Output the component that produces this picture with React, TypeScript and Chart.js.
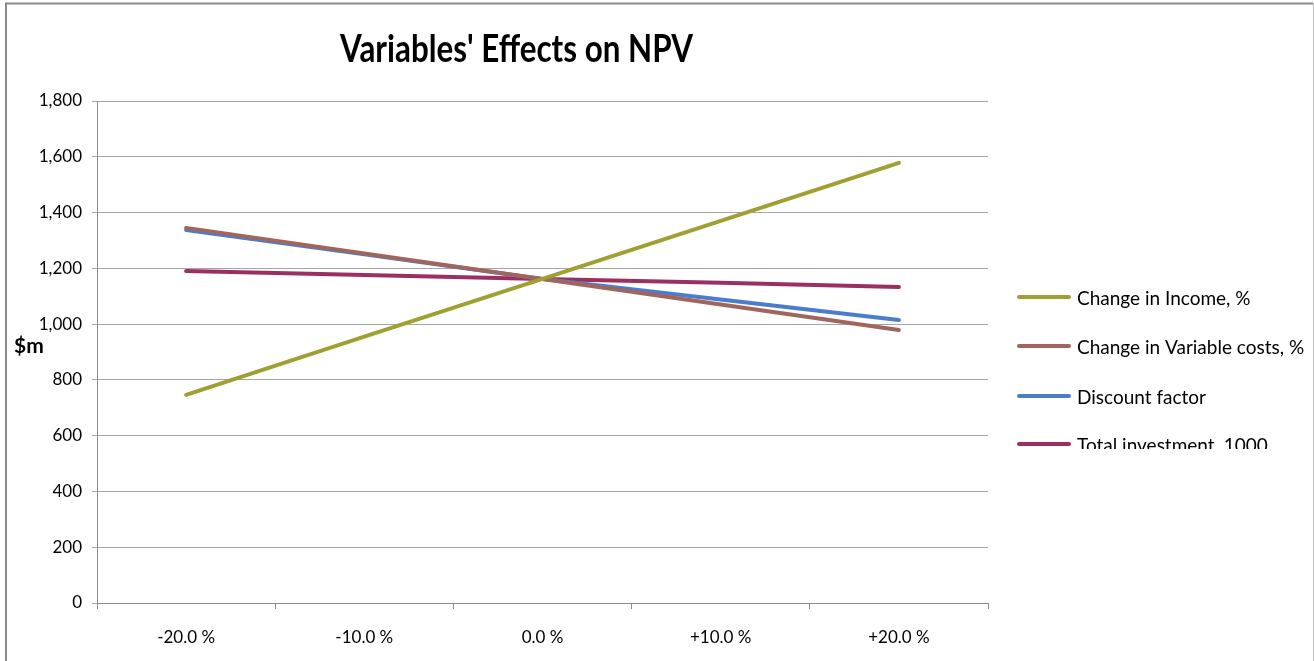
import React, { useEffect, useRef } from "react";
import { Chart, registerables } from "chart.js";

Chart.register(...registerables);

const categories = ["-20.0 %", "-10.0 %", "0.0 %", "+10.0 %", "+20.0 %"];
const incomeValues = [746, 955, 1162, 1370, 1578];
const variableCostValues = [1345, 1253, 1162, 1070, 979];
const discountValues = [1337, 1250, 1162, 1088, 1015];
const investmentValues = [1190, 1176, 1162, 1148, 1133];
const seriesLabels = [
  "Change in Income, %",
  "Change in Variable costs, %",
  "Discount factor",
  "Total investment, 1000",
];
const seriesColors = ["#A0A032", "#A0665E", "#4A7ECC", "#9B2F62"];
const chartTitle = "Variables' Effects on NPV";
const yUnitLabel = "$m";

const FONT = "Lato, 'Open Sans', sans-serif";

const decorPlugin = {
  id: "decor",
  afterDraw(chart: any) {
    const ctx = chart.ctx as CanvasRenderingContext2D;
    ctx.save();
    // frame
    ctx.strokeStyle = "#8a8a8a";
    ctx.lineWidth = 2;
    ctx.beginPath();
    ctx.moveTo(6, 661);
    ctx.lineTo(6, 3.5);
    ctx.lineTo(1313, 3.5);
    ctx.stroke();
    ctx.strokeStyle = "#c0c0c0";
    ctx.lineWidth = 1;
    ctx.beginPath();
    ctx.moveTo(1313.5, 3);
    ctx.lineTo(1313.5, 661);
    ctx.stroke();

    // title
    ctx.fillStyle = "#000";
    ctx.font = `bold 38px ${FONT}`;
    ctx.textBaseline = "alphabetic";
    ctx.textAlign = "left";
    const w = ctx.measureText(chartTitle).width;
    const targetW = 353;
    ctx.save();
    ctx.translate(340, 62);
    ctx.scale(targetW / w, 1);
    ctx.fillText(chartTitle, 0, 0);
    ctx.restore();

    // y unit label
    ctx.font = `bold 21px ${FONT}`;
    ctx.textBaseline = "middle";
    ctx.fillText(yUnitLabel, 14, 346);

    // legend
    const rowY = [297, 346, 396, 444];
    ctx.save();
    ctx.beginPath();
    ctx.rect(1000, 270, 314, 179);
    ctx.clip();
    chart.data.datasets.forEach((ds: any, i: number) => {
      const y = rowY[i];
      ctx.strokeStyle = ds.borderColor;
      ctx.lineWidth = 4;
      ctx.lineCap = "round";
      ctx.beginPath();
      ctx.moveTo(1019, y);
      ctx.lineTo(1069, y);
      ctx.stroke();
      ctx.fillStyle = "#000";
      ctx.font = `19px ${FONT}`;
      ctx.textBaseline = "middle";
      ctx.fillText(ds.label, 1077, y + 2);
    });
    ctx.restore();
    ctx.restore();
  },
};

export default function App() {
  const ref = useRef<HTMLCanvasElement | null>(null);
  useEffect(() => {
    if (!ref.current) return;
    const data = [incomeValues, variableCostValues, discountValues, investmentValues];
    const chart = new Chart(ref.current, {
      type: "line",
      data: {
        labels: categories,
        datasets: data.map((vals, i) => ({
          label: seriesLabels[i],
          data: vals,
          borderColor: seriesColors[i],
          backgroundColor: seriesColors[i],
          borderWidth: 4,
          pointRadius: 0,
          tension: 0,
          borderCapStyle: "round" as const,
        })),
      },
      options: {
        animation: false,
        responsive: false,
        maintainAspectRatio: false,
        layout: { padding: { left: 0, right: 326, top: 101, bottom: 0 } },
        plugins: {
          legend: { display: false },
          title: { display: false },
          tooltip: { enabled: false },
        },
        scales: {
          x: {
            offset: true,
            grid: {
              offset: true,
              drawOnChartArea: false,
              drawTicks: true,
              tickLength: 6,
              color: "#8c8c8c",
            },
            border: { display: true, color: "#8c8c8c", width: 1 },
            ticks: {
              font: { family: FONT, size: 17 },
              color: "#000",
              padding: 18,
              maxRotation: 0,
            },
            afterFit(scale: any) {
              scale.height = 58;
            },
          },
          y: {
            min: 0,
            max: 1800,
            ticks: {
              stepSize: 200,
              font: { family: FONT, size: 17 },
              color: "#000",
              padding: 10,
              callback: (v: any) => Number(v).toLocaleString("en-US"),
            },
            grid: { color: "#a6a6a6", tickLength: 5, lineWidth: 1 },
            border: { display: true, color: "#8c8c8c", width: 1 },
            afterFit(scale: any) {
              scale.width = 97;
            },
          },
        },
      },
      plugins: [decorPlugin],
    });
    return () => chart.destroy();
  }, []);
  return (
    <div style={{ position: "fixed", left: 0, top: 0, width: 1314, height: 661, background: "#fff" }}>
      <canvas ref={ref} width={1314} height={661} style={{ width: 1314, height: 661, display: "block" }} />
    </div>
  );
}
